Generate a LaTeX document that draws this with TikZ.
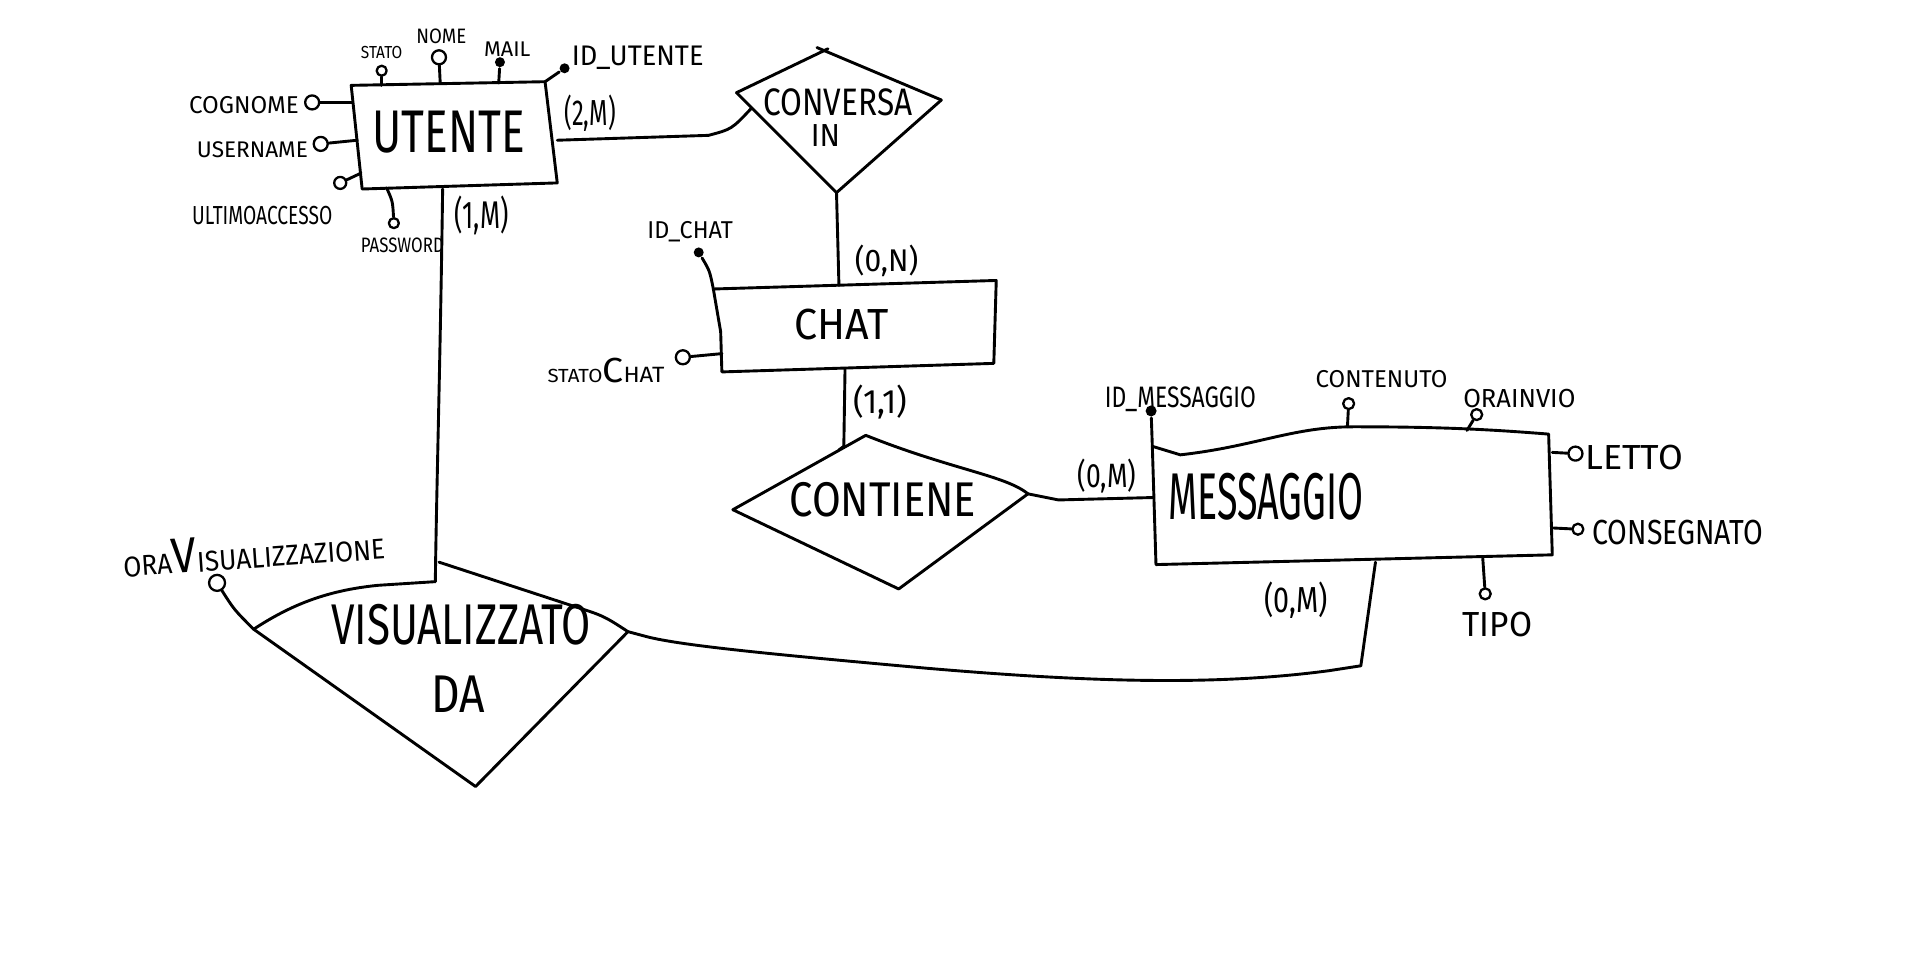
\documentclass[tikz,border=0pt]{standalone}
\usepackage{fontspec}
\setmainfont{Fira Sans}
\usepackage{graphicx}
\newlength\uu \setlength\uu{1.2194pt}
\newcommand\lb[3]{\resizebox{#1\uu}{#2\uu}{#3}}
\newcommand\lbt[3]{\resizebox*{#1\uu}{#2\uu}{#3}}
\newcommand\fsz[1]{\fontsize{#1}{#1}\selectfont}
\begin{document}
\begin{tikzpicture}[x=1.2194pt,y=-1.2194pt,line width=2.9pt,line join=round,line cap=round,
  lbl/.style={inner sep=0pt,outer sep=0pt},
  att/.style={circle,draw,fill=white,inner sep=0pt,line width=2.3pt},
  keyatt/.style={circle,fill=black,inner sep=0pt},
  shp/.style={line width=2.9pt},
  conn/.style={line width=2.9pt}]
\fill[white] (0,0) rectangle (1568,787);
\useasboundingbox (0,0) rectangle (1568,787);

% ---------------- UTENTE ----------------
\coordinate (uTL) at (288,70);
\coordinate (uTR) at (447,67);
\coordinate (uBR) at (457,150);
\coordinate (uBL) at (297,155);
\draw[shp] (uTL) -- (uTR) -- (uBR) -- (uBL) -- cycle;
\node[lbl] (tUtente) at (368,108) {\lb{125}{34}{UTENTE}};

\node[att,minimum size=10pt] (aStato) at (313,58) {};
\coordinate (pStato) at (313,70);
\draw[conn] (aStato) -- (pStato);
\node[lbl] (tStato) at (313,43) {\lb{34}{10}{STATO}};

\node[att,minimum size=14pt] (aNome) at (360,47) {};
\coordinate (pNome) at (361,68);
\draw[conn] (aNome) -- (pNome);
\node[lbl] (tNome) at (362,30) {\lb{41}{12}{NOME}};

\node[keyatt,minimum size=10pt] (aMail) at (410,51) {};
\coordinate (pMail) at (409,68);
\draw[conn] (aMail) -- (pMail);
\node[lbl] (tMail) at (416,40) {\lb{38}{12}{MAIL}};

\node[keyatt,minimum size=10pt] (aIdU) at (463,56) {};
\draw[conn] (uTR) -- (aIdU);
\node[lbl,anchor=west] (tIdU) at (469,47) {\lb{108}{16}{ID\_UTENTE}};

\node[att,minimum size=14pt] (aCognome) at (256,84) {};
\coordinate (pCognome) at (289,84);
\draw[conn] (aCognome) -- (pCognome);
\node[lbl] (tCognome) at (200,86) {\lb{90}{14}{COGNOME}};

\node[att,minimum size=14pt] (aUser) at (263,118) {};
\coordinate (pUser) at (293,115);
\draw[conn] (aUser) -- (pUser);
\node[lbl] (tUser) at (207,123) {\lb{91}{13}{USERNAME}};

\node[att,minimum size=12pt] (aUlt) at (279,150) {};
\coordinate (pUlt) at (296,142);
\draw[conn] (aUlt) -- (pUlt);
\node[lbl] (tUlt) at (215,177) {\lb{115}{15}{ULTIMOACCESSO}};

\node[att,minimum size=10pt] (aPw) at (323,183) {};
\coordinate (pPw) at (317,154);
\draw[conn] (pPw) .. controls (322,165) .. (aPw);
\node[lbl] (tPw) at (330,201) {\lb{68}{12}{PASSWORD}};

\node[lbl] (c2M) at (484,93) {\lbt{42}{30}{(2,M)}};
\node[lbl] (c1M) at (395,177) {\lbt{44}{32}{(1,M)}};

% ---------------- CONVERSA IN ----------------
\coordinate (cT) at (675,42);
\coordinate (cL) at (604,76);
\coordinate (cR) at (772,82);
\coordinate (cB) at (686,158);
\draw[shp] (cR) -- (cB) -- (cL);
\draw[shp] (cL) -- (679,40);
\draw[shp] (cR) -- (670,39);
\node[lbl] (tConv) at (687,84) {\lb{122}{22}{CONVERSA}};
\node[lbl] (tIn) at (677,111) {\lb{24}{18}{IN}};

\coordinate (uR) at (457,115);
\coordinate (cE) at (616,89);
\draw[conn] (uR) -- (581,111) .. controls (600,106) .. (cE);

% ---------------- CHAT ----------------
\coordinate (chTL) at (585,237);
\coordinate (chTR) at (817,230);
\coordinate (chBR) at (815,298);
\coordinate (chBL) at (592,305);
\draw[shp] (chTL) -- (chTR) -- (chBR) -- (chBL) -- (591,272) -- cycle;
\node[lbl] (tChat) at (690,266) {\lb{77}{25}{CHAT}};
\coordinate (chT) at (688,234);
\draw[conn] (cB) -- (chT);
\node[lbl] (c0N) at (727,214) {\lbt{52}{26}{(0,N)}};

\node[keyatt,minimum size=10pt] (aIdC) at (573,207) {};
\draw[conn] (chTL) .. controls (582,222) .. (aIdC);
\node[lbl] (tIdC) at (566,190) {\lb{70}{14}{ID\_CHAT}};

\node[att,minimum size=14pt] (aStC) at (560,293) {};
\coordinate (pStC) at (592,290);
\draw[conn] (aStC) -- (pStC);
\node[lbl] (tStC) at (497,304) {\lb{96}{20}{{\fsz{6}STATO}{\fsz{11}C}{\fsz{7}HAT}}};

% ---------------- CONTIENE ----------------
\coordinate (kT) at (710,357);
\coordinate (kL) at (601,418);
\coordinate (kR) at (843,405);
\coordinate (kB) at (737,483);
\draw[shp] (kT) .. controls (780,385) and (825,390) .. (kR) -- (kB) -- (kL) -- cycle;
\node[lbl] (tCont) at (724,410) {\lb{153}{28}{CONTIENE}};
\coordinate (chB) at (693,302);
\coordinate (kE) at (688,369);
\draw[conn] (chB) -- (692,366) -- (kE);
\node[lbl] (c11) at (722,330) {\lbt{44}{28}{(1,1)}};

% ---------------- MESSAGGIO ----------------
\coordinate (mTL) at (945,366);
\coordinate (mTR) at (1270,356);
\coordinate (mBR) at (1273,455);
\coordinate (mBL) at (948,463);
\draw[shp] (mTL) -- (968,373) .. controls (1030,366) and (1060,350) .. (1110,350)
  .. controls (1180,350) and (1220,352) .. (mTR) -- (mBR) -- (mBL) -- cycle;
\node[lbl] (tMsg) at (1038,407) {\lb{160}{38}{MESSAGGIO}};
\coordinate (mL) at (946,408);
\draw[conn] (kR) -- (868,410) -- (mL);
\node[lbl] (c0Ma) at (908,390) {\lbt{48}{28}{(0,M)}};

\node[keyatt,minimum size=11pt] (aIdM) at (944,337) {};
\draw[conn] (aIdM) -- (mTL);
\node[lbl] (tIdM) at (968,327) {\lb{124}{17}{ID\_MESSAGGIO}};

\node[att,minimum size=11pt] (aCnt) at (1106,331) {};
\coordinate (pCnt) at (1105,350);
\draw[conn] (aCnt) -- (pCnt);
\node[lbl] (tCnt) at (1133,311) {\lb{108}{14}{CONTENUTO}};

\node[att,minimum size=11pt] (aOra) at (1211,340) {};
\coordinate (pOra) at (1203,353);
\draw[conn] (aOra) -- (pOra);
\node[lbl] (tOra) at (1246,327) {\lb{92}{15}{ORAINVIO}};

\node[att,minimum size=14pt] (aLet) at (1292,372) {};
\coordinate (pLet) at (1273,371);
\draw[conn] (aLet) -- (pLet);
\node[lbl,anchor=west] (tLet) at (1300,375) {\lb{80}{20}{LETTO}};

\node[att,minimum size=11pt] (aCons) at (1294,434) {};
\coordinate (pCons) at (1274,433);
\draw[conn] (aCons) -- (pCons);
\node[lbl,anchor=west] (tCons) at (1306,437) {\lb{140}{20}{CONSEGNATO}};

\node[att,minimum size=11pt] (aTipo) at (1218,487) {};
\coordinate (pTipo) at (1216,458);
\draw[conn] (pTipo) -- (aTipo);
\node[lbl] (tTipo) at (1228,512) {\lb{57}{20}{TIPO}};

% ---------------- VISUALIZZATO DA ----------------
\coordinate (vTop) at (357,477);
\coordinate (vTR) at (360,461);
\coordinate (vL) at (208,516);
\coordinate (vB) at (390,645);
\coordinate (vR) at (515,518);
\draw[shp] (vL) .. controls (240,495) and (270,484) .. (310,480) -- (vTop);
\draw[shp] (vTR) -- (470,497) .. controls (495,505) .. (vR) -- (vB) -- (vL);
\node[lbl] (tVis) at (378,512) {\lb{213}{33}{VISUALIZZATO}};
\node[lbl] (tDa) at (376,569) {\lb{44}{30}{DA}};

\coordinate (uB) at (363,155);
\draw[conn] (uB) .. controls (361,300) and (358,400) .. (vTop);

\coordinate (mB) at (1128,461);
\draw[conn] (mB) -- (1116,546) -- (1090,550) .. controls (1000,562) and (900,560) .. (760,548)
  .. controls (650,538) and (560,530) .. (530,522) -- (vR);
\node[lbl] (c0Mb) at (1063,492) {\lbt{52}{30}{(0,M)}};

\node[att,minimum size=16pt] (aOv) at (178,478) {};
\draw[conn] (aOv) .. controls (192,500) .. (vL);
\node[lbl,rotate=4] (tOv) at (208,452) {\lb{215}{28}{{\fsz{7.5}ORA}{\fsz{13}V}{\fsz{7.5}ISUALIZZAZIONE}}};
\end{tikzpicture}
\end{document}
